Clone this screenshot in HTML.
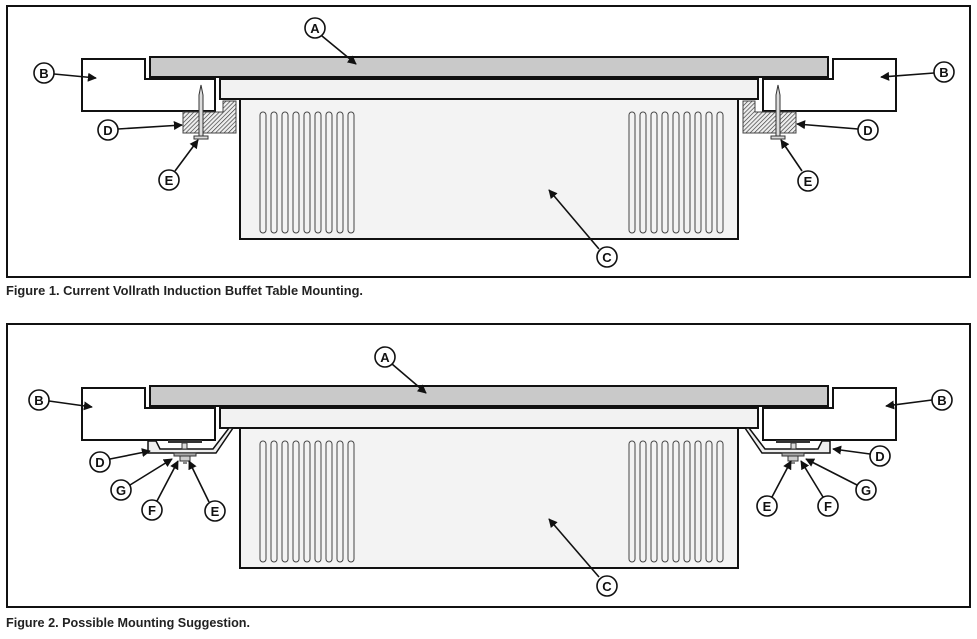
<!DOCTYPE html>
<html><head><style>
html,body{margin:0;padding:0;background:#fff;}
svg{display:block;}
text{font-family:"Liberation Sans",sans-serif;font-weight:bold;}
</style></head><body>
<svg width="977" height="639" viewBox="0 0 977 639" xmlns="http://www.w3.org/2000/svg">
<defs>
<marker id="ar" viewBox="0 0 10 10" refX="9" refY="5" markerWidth="9" markerHeight="9" markerUnits="userSpaceOnUse" orient="auto"><path d="M0,0 L10,5 L0,10 z" fill="#111"/></marker>
<pattern id="hat" width="3" height="3" patternUnits="userSpaceOnUse" patternTransform="rotate(45)"><rect width="3" height="3" fill="#eee"/><line x1="0" y1="0" x2="0" y2="3" stroke="#333" stroke-width="1.3"/></pattern>
<g id="fins">
<rect x="0" y="0" width="6" height="121" rx="3" fill="none" stroke="#444" stroke-width="1"/>
<rect x="11" y="0" width="6" height="121" rx="3" fill="none" stroke="#444" stroke-width="1"/>
<rect x="22" y="0" width="6" height="121" rx="3" fill="none" stroke="#444" stroke-width="1"/>
<rect x="33" y="0" width="6" height="121" rx="3" fill="none" stroke="#444" stroke-width="1"/>
<rect x="44" y="0" width="6" height="121" rx="3" fill="none" stroke="#444" stroke-width="1"/>
<rect x="55" y="0" width="6" height="121" rx="3" fill="none" stroke="#444" stroke-width="1"/>
<rect x="66" y="0" width="6" height="121" rx="3" fill="none" stroke="#444" stroke-width="1"/>
<rect x="77" y="0" width="6" height="121" rx="3" fill="none" stroke="#444" stroke-width="1"/>
<rect x="88" y="0" width="6" height="121" rx="3" fill="none" stroke="#444" stroke-width="1"/>
</g>
<g id="core">
<rect x="150" y="57" width="678" height="20" fill="#c9c9c9" stroke="#111" stroke-width="2"/>
<rect x="220" y="79" width="538" height="20" fill="#f2f2f2" stroke="#111" stroke-width="2"/>
<rect x="240" y="99" width="498" height="140" fill="#f3f3f3" stroke="#111" stroke-width="2"/>
<use href="#fins" x="260" y="112"/>
<use href="#fins" x="629" y="112"/>
<path d="M82,59 H145 V79 H215 V111 H82 Z" fill="#fff" stroke="#111" stroke-width="2"/>
<path d="M896,59 H833 V79 H763 V111 H896 Z" fill="#fff" stroke="#111" stroke-width="2"/>
</g>
<g id="hw2">
<path d="M148,441 L148,453 L216,453 L233,428 L229,428 L213,449 L160,449 L156,441 Z" fill="#eee" stroke="#111" stroke-width="1.5"/>
<rect x="168" y="440" width="34" height="3" fill="#333"/>
<rect x="182" y="443" width="5" height="6" fill="#ddd" stroke="#333" stroke-width="1"/>
<rect x="174" y="453" width="22" height="3" fill="#aaa" stroke="#333" stroke-width="1"/>
<rect x="180" y="456" width="10" height="5" fill="#ccc" stroke="#333" stroke-width="1"/>
<rect x="183" y="461" width="4" height="3" fill="#888"/>
</g>
</defs>

<!-- Figure 1 -->
<rect x="7" y="6" width="963" height="271" fill="#fff" stroke="#111" stroke-width="2"/>
<use href="#core"/>
<path d="M223,101 H236 V133 H183 V112 H223 Z" fill="url(#hat)" stroke="#444" stroke-width="1"/>
<path d="M755,101 H743 V133 H796 V112 H755 Z" fill="url(#hat)" stroke="#444" stroke-width="1"/>
<g stroke="#333" stroke-width="1" fill="#ddd">
<path d="M199,95 L201,85 L203,95 V136 H199 Z"/>
<rect x="194" y="136" width="14" height="3"/>
<path d="M776,95 L778,85 L780,95 V136 H776 Z"/>
<rect x="771" y="136" width="14" height="3"/>
</g>
<g stroke="#111" stroke-width="1.6" marker-end="url(#ar)">
<line x1="322" y1="36" x2="356" y2="64"/>
<line x1="54" y1="74" x2="96" y2="78"/>
<line x1="118" y1="129" x2="182" y2="125"/>
<line x1="175" y1="171" x2="198" y2="140"/>
<line x1="934" y1="73" x2="881" y2="77"/>
<line x1="858" y1="129" x2="797" y2="124"/>
<line x1="802" y1="171" x2="781" y2="140"/>
<line x1="599" y1="249" x2="549" y2="190"/>
</g>
<g fill="#fff" stroke="#111" stroke-width="1.6">
<circle cx="315" cy="28" r="10"/><circle cx="44" cy="73" r="10"/><circle cx="108" cy="130" r="10"/><circle cx="169" cy="180" r="10"/>
<circle cx="944" cy="72" r="10"/><circle cx="868" cy="130" r="10"/><circle cx="808" cy="181" r="10"/><circle cx="607" cy="257" r="10"/>
</g>
<g font-size="13" text-anchor="middle" fill="#111">
<text x="315" y="33">A</text><text x="44" y="78">B</text><text x="108" y="135">D</text><text x="169" y="185">E</text>
<text x="944" y="77">B</text><text x="868" y="135">D</text><text x="808" y="186">E</text><text x="607" y="262">C</text>
</g>
<text x="6" y="295" font-size="13" fill="#222" textLength="357" lengthAdjust="spacingAndGlyphs">Figure 1. Current Vollrath Induction Buffet Table Mounting.</text>

<!-- Figure 2 -->
<rect x="7" y="324" width="963" height="283" fill="#fff" stroke="#111" stroke-width="2"/>
<g transform="translate(0,329)"><use href="#core"/></g>
<use href="#hw2"/>
<g transform="translate(978,0) scale(-1,1)"><use href="#hw2"/></g>
<g stroke="#111" stroke-width="1.6" marker-end="url(#ar)">
<line x1="392" y1="364" x2="426" y2="393"/>
<line x1="49" y1="401" x2="92" y2="407"/>
<line x1="110" y1="459" x2="150" y2="451"/>
<line x1="130" y1="485" x2="172" y2="459"/>
<line x1="157" y1="501" x2="178" y2="461"/>
<line x1="209" y1="502" x2="189" y2="461"/>
<line x1="932" y1="400" x2="886" y2="406"/>
<line x1="870" y1="454" x2="833" y2="449"/>
<line x1="857" y1="485" x2="806" y2="459"/>
<line x1="823" y1="497" x2="801" y2="461"/>
<line x1="772" y1="497" x2="791" y2="461"/>
<line x1="599" y1="577" x2="549" y2="519"/>
</g>
<g fill="#fff" stroke="#111" stroke-width="1.6">
<circle cx="385" cy="357" r="10"/><circle cx="39" cy="400" r="10"/><circle cx="100" cy="462" r="10"/><circle cx="121" cy="490" r="10"/><circle cx="152" cy="510" r="10"/><circle cx="215" cy="511" r="10"/>
<circle cx="942" cy="400" r="10"/><circle cx="880" cy="456" r="10"/><circle cx="866" cy="490" r="10"/><circle cx="828" cy="506" r="10"/><circle cx="767" cy="506" r="10"/><circle cx="607" cy="586" r="10"/>
</g>
<g font-size="13" text-anchor="middle" fill="#111">
<text x="385" y="362">A</text><text x="39" y="405">B</text><text x="100" y="467">D</text><text x="121" y="495">G</text><text x="152" y="515">F</text><text x="215" y="516">E</text>
<text x="942" y="405">B</text><text x="880" y="461">D</text><text x="866" y="495">G</text><text x="828" y="511">F</text><text x="767" y="511">E</text><text x="607" y="591">C</text>
</g>
<text x="6" y="627" font-size="13" fill="#222" textLength="244" lengthAdjust="spacingAndGlyphs">Figure 2. Possible Mounting Suggestion.</text>
</svg>
</body></html>
